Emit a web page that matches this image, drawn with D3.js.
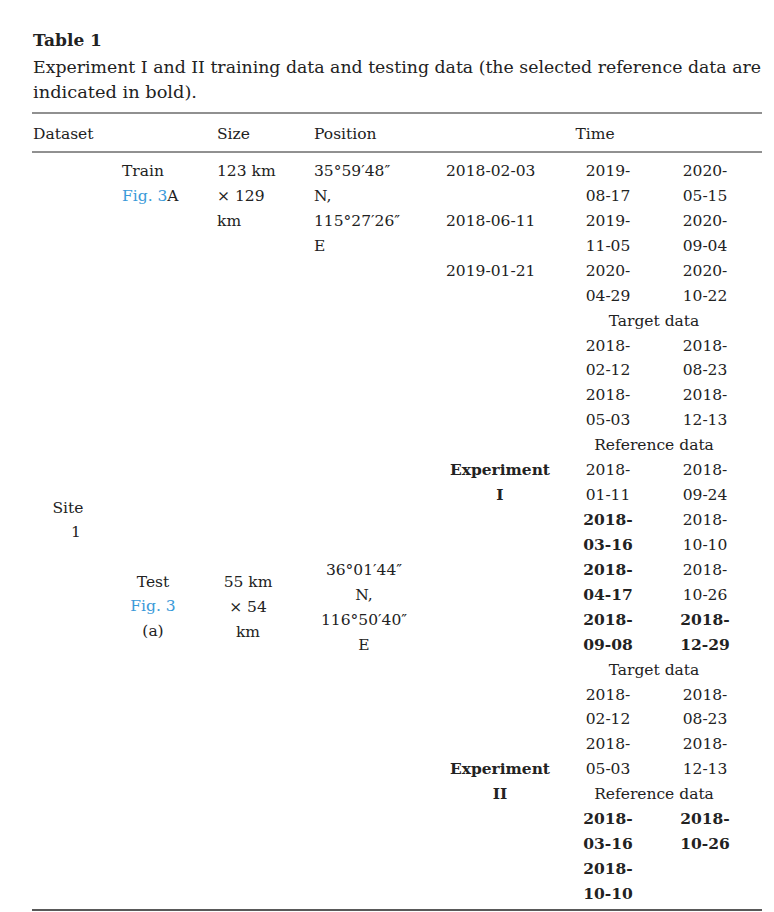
<!DOCTYPE html>
<meta charset="UTF-8">
<script src="https://cdn.jsdelivr.net/npm/d3@7"></script>
<style>
 body { margin:0; background:#fff; }
 text { font-family:"DejaVu Serif","Liberation Serif",serif; font-size:15.5px; fill:#222; }
 .b { font-weight:bold; }
 .link { fill:#3a9ad9; }
</style>
<svg id="tbl" width="774" height="912"></svg>
<script>
 // header cells
 var headers = [["Dataset",33,"start"],["Size",217,"start"],["Position",314,"start"],["Time",595,"middle"]];

 // training rows: first date column and two later date pairs
 var trainDates = ["2018-02-03","2018-06-11","2019-01-21"];
 var trainCol5 = ["2019-","08-17","2019-","11-05","2020-","04-29"];
 var trainCol6 = ["2020-","05-15","2020-","09-04","2020-","10-22"];

 // test rows, [text, bold]; single string = spanning label
 var testRows = [
   ["Target data"],
   [["2018-",0],["2018-",0]],
   [["02-12",0],["08-23",0]],
   [["2018-",0],["2018-",0]],
   [["05-03",0],["12-13",0]],
   ["Reference data"],
   [["2018-",0],["2018-",0]],
   [["01-11",0],["09-24",0]],
   [["2018-",1],["2018-",0]],
   [["03-16",1],["10-10",0]],
   [["2018-",1],["2018-",0]],
   [["04-17",1],["10-26",0]],
   [["2018-",1],["2018-",1]],
   [["09-08",1],["12-29",1]],
   ["Target data"],
   [["2018-",0],["2018-",0]],
   [["02-12",0],["08-23",0]],
   [["2018-",0],["2018-",0]],
   [["05-03",0],["12-13",0]],
   ["Reference data"],
   [["2018-",1],["2018-",1]],
   [["03-16",1],["10-26",1]],
   [["2018-",1],["",0]],
   [["10-10",1],["",0]]
 ];

 var svg = d3.select("#tbl");
 var y = d3.scaleLinear().domain([0,29]).range([176,899]);   // row baselines
 var x = {c2:122, c3:217, c4:314, c5:446, c6:608, c7:705, span:654};

 function t(str, px, py, anchor, cls) {
   return svg.append("text").attr("x",px).attr("y",py)
     .attr("text-anchor",anchor||"start").attr("class",cls||null).text(str);
 }

 // title and caption
 t("Table 1",33,46,"start","b").style("font-size","17px");
 t("Experiment I and II training data and testing data (the selected reference data are",33,73)
   .attr("textLength",728).attr("lengthAdjust","spacingAndGlyphs").style("font-size","17px");
 t("indicated in bold).",33,98).attr("textLength",164).attr("lengthAdjust","spacingAndGlyphs").style("font-size","17px");

 // rules
 [[113,1.2],[152,1],[910,1.6]].forEach(function(r){
   svg.append("line").attr("x1",32).attr("x2",762).attr("y1",r[0]).attr("y2",r[0])
     .attr("stroke","#222").attr("stroke-width",r[1]);
 });

 headers.forEach(function(h){ t(h[0],h[1],139,h[2]); });

 // train block
 t("Train",x.c2,y(0));
 var f = t("",x.c2,y(1)); f.append("tspan").attr("class","link").text("Fig. 3"); f.append("tspan").text("A");
 ["123 km","\u00d7 129","km"].forEach(function(s,i){ t(s,x.c3,y(i)); });
 ["35\u00b059\u203248\u2033","N,","115\u00b027\u203226\u2033","E"].forEach(function(s,i){ t(s,x.c4,y(i)); });
 trainDates.forEach(function(s,i){ t(s,x.c5,y(i*2)); });
 trainCol5.forEach(function(s,i){ t(s,x.c6,y(i),"middle"); });
 trainCol6.forEach(function(s,i){ t(s,x.c7,y(i),"middle"); });

 // test block
 testRows.forEach(function(r,i){
   var py = y(i+6);
   if (r.length==1) { t(r[0],x.span,py,"middle"); return; }
   t(r[0][0],x.c6,py,"middle",r[0][1]?"b":null);
   t(r[1][0],x.c7,py,"middle",r[1][1]?"b":null);
 });

 t("Site",68,513,"middle"); t("1",76,537,"middle");
 t("Test",153,587,"middle"); t("Fig. 3",153,611,"middle","link"); t("(a)",153,636,"middle");
 ["55 km","\u00d7 54","km"].forEach(function(s,i){ t(s,248,587+i*24.9,"middle"); });
 ["36\u00b001\u203244\u2033","N,","116\u00b050\u203240\u2033","E"].forEach(function(s,i){ t(s,364,575+i*24.9,"middle"); });
 t("Experiment",500,y(12),"middle","b").attr("textLength",100).attr("lengthAdjust","spacingAndGlyphs");
 t("I",500,y(13),"middle","b");
 t("Experiment",500,y(24),"middle","b").attr("textLength",100).attr("lengthAdjust","spacingAndGlyphs");
 t("II",500,y(25),"middle","b");
</script>
